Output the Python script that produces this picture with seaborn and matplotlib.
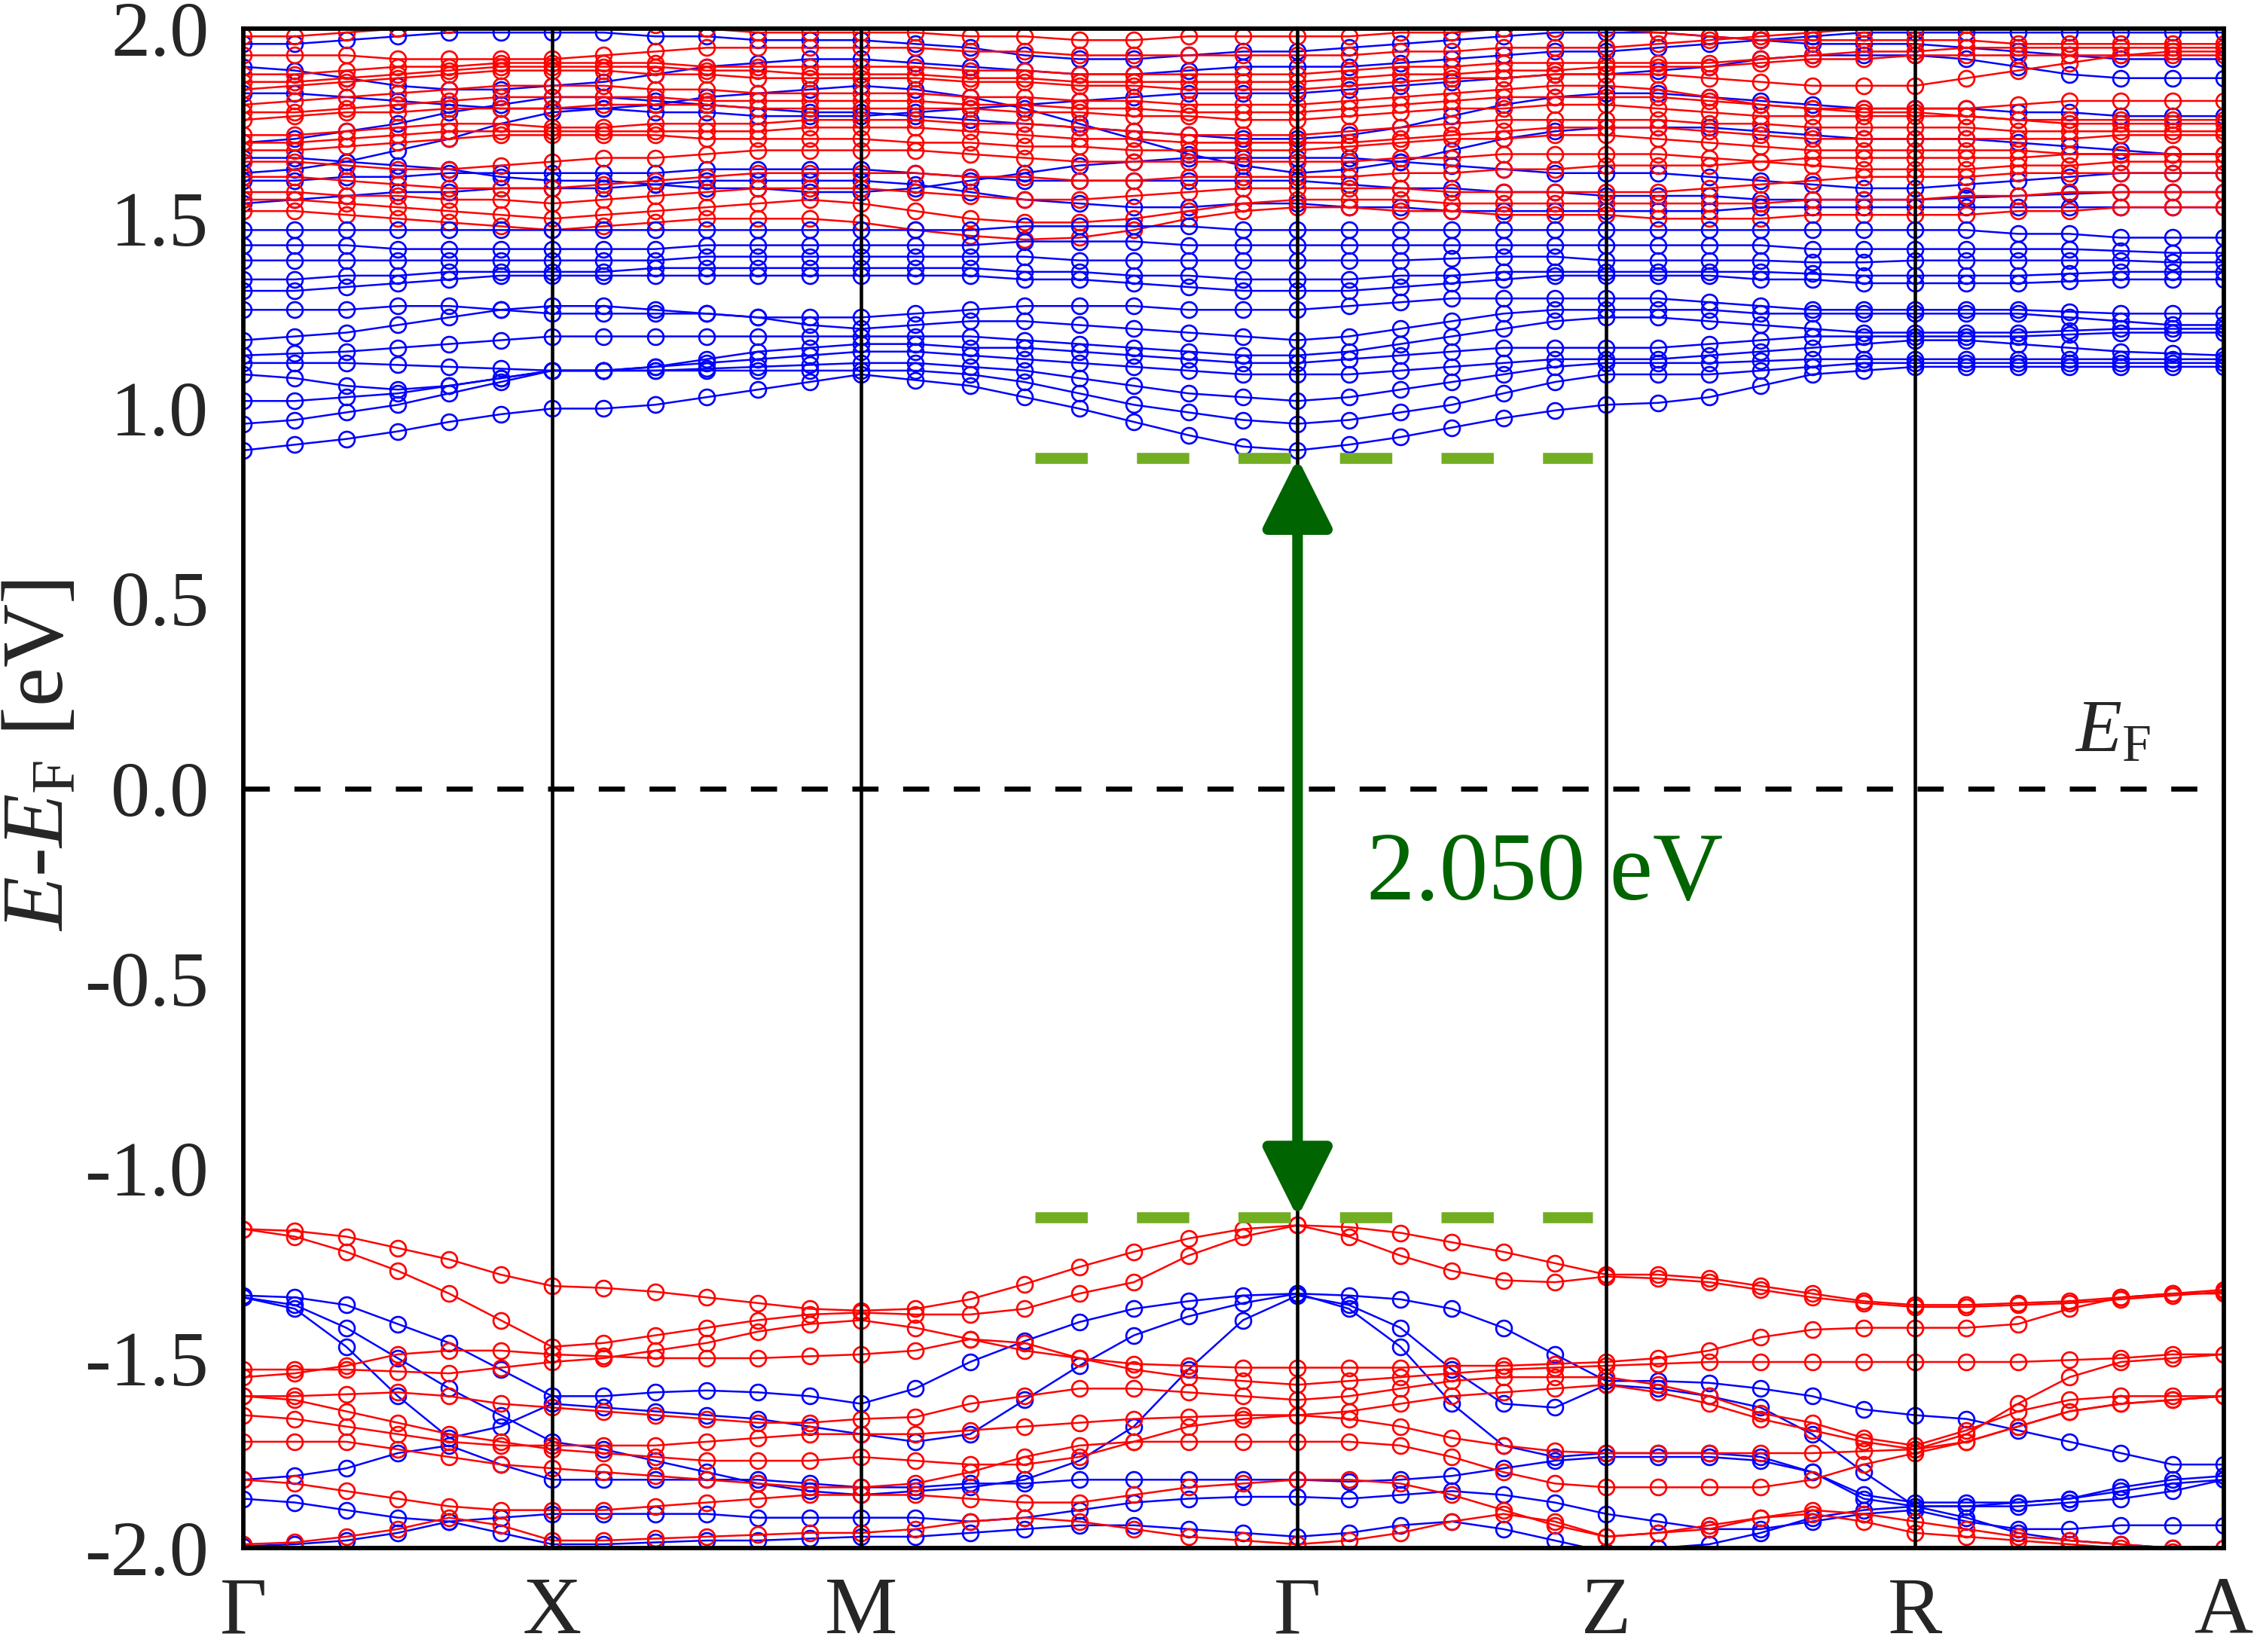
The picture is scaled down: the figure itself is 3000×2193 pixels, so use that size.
import numpy as np
import pandas as pd
import matplotlib
matplotlib.use("Agg")
import matplotlib.pyplot as plt
from matplotlib import font_manager as fm
import seaborn as sns

# k-path (high symmetry points) and number of k-steps on each segment
kpoint_labels = ["Γ", "X", "M", "Γ", "Z", "R", "A"]
kpoint_pos = [0.0, 1.0, 2.0, 3.414, 4.414, 5.414, 6.414]
seg_steps = [6, 6, 8, 6, 6, 6]

ytick_vals = [-2.0, -1.5, -1.0, -0.5, 0.0, 0.5, 1.0, 1.5, 2.0]
ytick_labels = ["-2.0", "-1.5", "-1.0", "-0.5", "0.0", "0.5", "1.0", "1.5", "2.0"]

gap_text = "2.050 eV"
cbm_line = 0.87
vbm_line = -1.13

# energies (eV), one list per band, on the k grid above
# blue bands, bottom of conduction region
blue_cond = [
    [0.89,0.905,0.92,0.94,0.965,0.985,1.00, 1.00,1.01,1.03,1.05,1.07,1.09, 1.075,1.06,1.03,1.00,0.965,0.93,0.90,0.89, 0.905,0.925,0.95,0.975,0.995,1.01, 1.015,1.03,1.06,1.09,1.10,1.11, 1.11,1.11,1.11,1.11,1.11,1.11],
    [0.96,0.97,0.99,1.01,1.04,1.07,1.10, 1.10,1.10,1.10,1.10,1.10,1.10, 1.10,1.09,1.07,1.04,1.01,0.99,0.97,0.96, 0.97,0.99,1.01,1.04,1.07,1.09, 1.09,1.09,1.10,1.11,1.12,1.12, 1.12,1.12,1.12,1.12,1.12,1.12],
    [1.02,1.02,1.03,1.04,1.06,1.08,1.10, 1.10,1.10,1.105,1.11,1.115,1.12, 1.12,1.11,1.10,1.08,1.06,1.04,1.03,1.02, 1.03,1.05,1.07,1.09,1.11,1.12, 1.12,1.12,1.125,1.13,1.13,1.13, 1.13,1.13,1.13,1.13,1.13,1.13],
    [1.09,1.08,1.06,1.05,1.06,1.08,1.10, 1.10,1.11,1.12,1.13,1.14,1.15, 1.15,1.14,1.13,1.12,1.11,1.10,1.09,1.09, 1.09,1.10,1.11,1.12,1.13,1.13, 1.13,1.14,1.15,1.16,1.17,1.18, 1.18,1.17,1.16,1.15,1.145,1.14],
    [1.12,1.12,1.12,1.115,1.11,1.105,1.10, 1.10,1.11,1.13,1.15,1.16,1.17, 1.17,1.16,1.16,1.15,1.14,1.13,1.12,1.12, 1.13,1.14,1.15,1.16,1.16,1.16, 1.16,1.17,1.18,1.19,1.19,1.19, 1.19,1.19,1.195,1.20,1.20,1.20],
    [1.14,1.145,1.15,1.16,1.17,1.18,1.19, 1.19,1.19,1.19,1.19,1.19,1.19, 1.19,1.19,1.18,1.17,1.16,1.15,1.14,1.14, 1.15,1.17,1.19,1.21,1.23,1.24, 1.24,1.23,1.22,1.21,1.20,1.20, 1.20,1.20,1.205,1.21,1.21,1.21],
    [1.18,1.19,1.20,1.22,1.24,1.26,1.27, 1.27,1.26,1.25,1.24,1.22,1.21, 1.22,1.23,1.23,1.22,1.21,1.20,1.19,1.18, 1.19,1.21,1.23,1.25,1.26,1.26, 1.26,1.26,1.25,1.25,1.25,1.25, 1.25,1.25,1.24,1.23,1.22,1.22],
    [1.26,1.26,1.26,1.27,1.27,1.26,1.25, 1.25,1.25,1.25,1.24,1.24,1.24, 1.25,1.26,1.27,1.27,1.27,1.26,1.26,1.26, 1.27,1.28,1.29,1.29,1.29,1.29, 1.29,1.28,1.27,1.26,1.26,1.26, 1.26,1.26,1.255,1.25,1.25,1.25],
    [1.31,1.31,1.32,1.33,1.34,1.35,1.35, 1.35,1.35,1.35,1.35,1.35,1.35, 1.35,1.35,1.34,1.34,1.33,1.32,1.31,1.31, 1.31,1.32,1.33,1.34,1.35,1.35, 1.35,1.35,1.34,1.34,1.33,1.33, 1.33,1.33,1.335,1.34,1.34,1.34],
    [1.34,1.34,1.35,1.35,1.36,1.36,1.36, 1.36,1.37,1.37,1.37,1.37,1.37, 1.37,1.37,1.36,1.36,1.35,1.35,1.34,1.34, 1.34,1.35,1.35,1.36,1.36,1.36, 1.36,1.36,1.36,1.355,1.35,1.35, 1.35,1.35,1.355,1.36,1.36,1.36],
    [1.39,1.39,1.39,1.39,1.39,1.39,1.39, 1.39,1.39,1.40,1.40,1.40,1.40, 1.40,1.40,1.40,1.39,1.39,1.39,1.39,1.39, 1.39,1.39,1.395,1.40,1.40,1.39, 1.39,1.39,1.39,1.385,1.385,1.39, 1.39,1.39,1.39,1.39,1.385,1.385],
    [1.43,1.43,1.43,1.42,1.42,1.42,1.42, 1.42,1.42,1.43,1.43,1.43,1.43, 1.43,1.43,1.44,1.44,1.44,1.43,1.43,1.43, 1.43,1.43,1.43,1.43,1.43,1.43, 1.43,1.43,1.43,1.42,1.42,1.42, 1.42,1.42,1.42,1.415,1.41,1.41],
    [1.47,1.47,1.47,1.47,1.47,1.47,1.47, 1.47,1.47,1.47,1.47,1.47,1.47, 1.47,1.47,1.48,1.48,1.48,1.48,1.47,1.47, 1.47,1.47,1.47,1.47,1.47,1.47, 1.47,1.47,1.47,1.47,1.47,1.47, 1.47,1.46,1.46,1.45,1.45,1.45],
]

# blue bands mixed in the 1.5 - 2.0 eV tangle
blue_high = [
    [1.60,1.60,1.61,1.61,1.62,1.62,1.62, 1.62,1.62,1.63,1.63,1.63,1.63, 1.62,1.61,1.60,1.60,1.60,1.60,1.60,1.60, 1.59,1.58,1.58,1.57,1.57,1.56, 1.56,1.56,1.55,1.55,1.55,1.55, 1.555,1.56,1.565,1.57,1.57,1.57],
    [1.62,1.63,1.65,1.68,1.71,1.75,1.78, 1.79,1.80,1.82,1.83,1.84,1.85, 1.84,1.82,1.79,1.75,1.71,1.67,1.64,1.62, 1.63,1.65,1.68,1.71,1.73,1.74, 1.74,1.74,1.73,1.72,1.71,1.71, 1.71,1.70,1.69,1.68,1.67,1.67],
    [1.66,1.66,1.65,1.64,1.63,1.61,1.60, 1.60,1.59,1.58,1.58,1.57,1.57, 1.58,1.60,1.62,1.64,1.65,1.66,1.66,1.66, 1.66,1.65,1.64,1.63,1.62,1.62, 1.62,1.61,1.60,1.59,1.58,1.58, 1.59,1.60,1.61,1.62,1.62,1.62],
    [1.70,1.71,1.73,1.75,1.78,1.80,1.82, 1.82,1.81,1.80,1.79,1.78,1.78, 1.77,1.76,1.75,1.74,1.73,1.72,1.71,1.71, 1.72,1.74,1.77,1.80,1.82,1.83, 1.83,1.82,1.81,1.80,1.79,1.79, 1.79,1.78,1.78,1.77,1.77,1.77],
    [1.96,1.96,1.97,1.98,1.99,1.99,1.99, 1.99,1.98,1.98,1.97,1.97,1.97, 1.96,1.95,1.93,1.92,1.92,1.93,1.94,1.94, 1.95,1.96,1.97,1.98,1.99,1.99, 1.99,1.98,1.97,1.96,1.96,1.96, 1.95,1.94,1.93,1.92,1.92,1.92],
    [1.83,1.83,1.82,1.81,1.80,1.79,1.79, 1.79,1.78,1.78,1.77,1.77,1.77, 1.78,1.79,1.80,1.81,1.82,1.83,1.83,1.83, 1.84,1.85,1.86,1.87,1.88,1.88, 1.89,1.90,1.92,1.93,1.93,1.93, 1.92,1.90,1.88,1.87,1.87,1.87],
    [1.54,1.55,1.56,1.57,1.57,1.58,1.58, 1.58,1.59,1.60,1.60,1.60,1.60, 1.59,1.57,1.55,1.54,1.53,1.53,1.54,1.54, 1.53,1.53,1.52,1.52,1.52,1.52, 1.52,1.52,1.53,1.53,1.53,1.53, 1.53,1.53,1.53,1.53,1.53,1.53],
    [1.90,1.89,1.87,1.85,1.84,1.84,1.85, 1.86,1.88,1.90,1.91,1.92,1.92, 1.91,1.90,1.89,1.88,1.88,1.89,1.90,1.90, 1.90,1.91,1.92,1.93,1.94,1.94, 1.95,1.96,1.97,1.98,1.99,1.99, 1.99,1.99,1.99,1.99,1.99,1.99],
]

# red bands in the 1.5 - 2.0 eV tangle
red_high = [
    [1.52,1.52,1.51,1.50,1.49,1.48,1.47, 1.48,1.49,1.50,1.50,1.50,1.49, 1.47,1.455,1.445,1.45,1.47,1.50,1.52,1.53, 1.53,1.52,1.52,1.51,1.51,1.51, 1.50,1.50,1.50,1.51,1.51,1.51, 1.51,1.52,1.52,1.53,1.53,1.53],
    [1.55,1.55,1.54,1.53,1.52,1.51,1.50, 1.51,1.52,1.53,1.54,1.55,1.54, 1.52,1.50,1.49,1.49,1.50,1.52,1.54,1.55, 1.55,1.55,1.54,1.54,1.54,1.54, 1.54,1.54,1.54,1.55,1.55,1.55, 1.56,1.56,1.57,1.57,1.57,1.57],
    [1.57,1.57,1.56,1.56,1.55,1.55,1.54, 1.55,1.56,1.57,1.58,1.58,1.58, 1.57,1.56,1.55,1.55,1.56,1.57,1.58,1.58, 1.58,1.58,1.57,1.57,1.57,1.57, 1.57,1.58,1.59,1.60,1.61,1.61, 1.61,1.62,1.62,1.62,1.62,1.62],
    [1.61,1.61,1.60,1.59,1.58,1.58,1.58, 1.59,1.60,1.61,1.62,1.62,1.62, 1.62,1.61,1.61,1.60,1.60,1.61,1.61,1.61, 1.61,1.62,1.62,1.63,1.63,1.64, 1.64,1.64,1.65,1.66,1.66,1.66, 1.66,1.66,1.67,1.67,1.67,1.67],
    [1.65,1.65,1.64,1.63,1.63,1.64,1.65, 1.66,1.66,1.67,1.68,1.68,1.68, 1.68,1.67,1.66,1.65,1.65,1.65,1.65,1.65, 1.65,1.66,1.66,1.67,1.67,1.67, 1.67,1.66,1.65,1.64,1.63,1.63, 1.63,1.64,1.64,1.65,1.65,1.65],
    [1.68,1.68,1.69,1.70,1.71,1.72,1.72, 1.72,1.72,1.71,1.71,1.71,1.71, 1.70,1.70,1.69,1.69,1.68,1.68,1.68,1.68, 1.69,1.70,1.71,1.71,1.72,1.72, 1.71,1.70,1.69,1.68,1.68,1.68, 1.68,1.68,1.67,1.67,1.67,1.67],
    [1.70,1.70,1.71,1.72,1.73,1.73,1.73, 1.73,1.73,1.73,1.73,1.74,1.74, 1.74,1.73,1.72,1.71,1.71,1.70,1.70,1.70, 1.70,1.71,1.72,1.73,1.74,1.74, 1.74,1.73,1.72,1.71,1.71,1.71, 1.71,1.71,1.71,1.72,1.72,1.72],
    [1.72,1.72,1.73,1.74,1.75,1.75,1.74, 1.74,1.75,1.75,1.75,1.76,1.76, 1.76,1.75,1.75,1.74,1.73,1.72,1.72,1.72, 1.73,1.74,1.75,1.76,1.76,1.76, 1.76,1.75,1.75,1.74,1.74,1.74, 1.74,1.73,1.73,1.73,1.73,1.73],
    [1.76,1.77,1.78,1.78,1.79,1.79,1.79, 1.80,1.80,1.80,1.79,1.79,1.79, 1.79,1.79,1.78,1.78,1.77,1.77,1.76,1.76, 1.77,1.78,1.79,1.79,1.80,1.80, 1.79,1.78,1.77,1.77,1.77,1.77, 1.77,1.76,1.76,1.76,1.76,1.76],
    [1.78,1.78,1.79,1.80,1.81,1.82,1.82, 1.82,1.82,1.81,1.81,1.81,1.81, 1.81,1.80,1.80,1.79,1.79,1.78,1.78,1.78, 1.79,1.80,1.81,1.82,1.82,1.82, 1.82,1.81,1.80,1.79,1.78,1.78, 1.77,1.76,1.75,1.75,1.75,1.75],
    [1.80,1.81,1.82,1.83,1.84,1.85,1.85, 1.85,1.84,1.84,1.83,1.83,1.83, 1.83,1.82,1.82,1.81,1.81,1.80,1.80,1.80, 1.81,1.82,1.83,1.84,1.85,1.85, 1.84,1.82,1.80,1.79,1.79,1.79, 1.79,1.80,1.81,1.81,1.81,1.81],
    [1.84,1.85,1.86,1.87,1.88,1.89,1.89, 1.89,1.88,1.88,1.87,1.87,1.87, 1.87,1.86,1.86,1.85,1.85,1.84,1.84,1.84, 1.85,1.86,1.87,1.87,1.88,1.88, 1.88,1.87,1.86,1.85,1.85,1.85, 1.87,1.89,1.91,1.93,1.94,1.94],
    [1.86,1.86,1.87,1.88,1.89,1.90,1.90, 1.90,1.90,1.89,1.89,1.88,1.88, 1.88,1.87,1.87,1.86,1.86,1.86,1.86,1.86, 1.87,1.88,1.88,1.89,1.89,1.90, 1.90,1.90,1.91,1.92,1.92,1.93, 1.93,1.93,1.93,1.93,1.93,1.93],
    [1.88,1.88,1.89,1.90,1.90,1.91,1.91, 1.91,1.91,1.90,1.90,1.90,1.90, 1.90,1.89,1.89,1.88,1.88,1.88,1.88,1.88, 1.89,1.90,1.90,1.91,1.91,1.91, 1.91,1.91,1.92,1.93,1.94,1.94, 1.95,1.95,1.95,1.95,1.95,1.95],
    [1.93,1.93,1.93,1.92,1.92,1.92,1.92, 1.93,1.94,1.95,1.95,1.95,1.95, 1.95,1.94,1.94,1.93,1.93,1.93,1.93,1.93, 1.93,1.94,1.94,1.95,1.95,1.95, 1.96,1.97,1.98,1.99,2.00,2.00, 2.01,2.02,2.02,2.02,2.02,2.02],
    [1.98,1.98,1.99,2.00,2.01,2.02,2.02, 2.02,2.01,2.00,1.99,1.99,1.99, 1.99,1.98,1.98,1.97,1.97,1.98,1.98,1.98, 1.98,1.99,1.99,2.00,2.00,2.00, 1.99,1.98,1.97,1.97,1.97,1.97, 1.97,1.96,1.96,1.96,1.96,1.96],
]

# red valence bands
red_val = [
    [-1.16,-1.165,-1.18,-1.21,-1.24,-1.28,-1.31, -1.315,-1.325,-1.34,-1.355,-1.37,-1.375, -1.37,-1.345,-1.305,-1.26,-1.22,-1.185,-1.16,-1.15, -1.155,-1.17,-1.195,-1.22,-1.25,-1.28, -1.28,-1.29,-1.31,-1.33,-1.35,-1.36, -1.36,-1.355,-1.35,-1.34,-1.33,-1.32],
    [-1.16,-1.18,-1.22,-1.27,-1.33,-1.40,-1.47, -1.46,-1.44,-1.42,-1.40,-1.385,-1.38, -1.385,-1.385,-1.37,-1.33,-1.30,-1.23,-1.18,-1.15, -1.18,-1.23,-1.27,-1.295,-1.30,-1.285, -1.29,-1.30,-1.32,-1.34,-1.355,-1.365, -1.365,-1.36,-1.355,-1.345,-1.335,-1.325],
    [-1.53,-1.53,-1.53,-1.535,-1.54,-1.525,-1.51, -1.50,-1.48,-1.46,-1.43,-1.41,-1.40, -1.42,-1.45,-1.48,-1.50,-1.515,-1.52,-1.525,-1.525, -1.525,-1.525,-1.52,-1.52,-1.515,-1.51, -1.50,-1.48,-1.445,-1.425,-1.42,-1.42, -1.42,-1.41,-1.37,-1.34,-1.33,-1.33],
    [-1.55,-1.54,-1.52,-1.49,-1.48,-1.48,-1.49, -1.495,-1.50,-1.50,-1.50,-1.495,-1.49, -1.48,-1.45,-1.46,-1.50,-1.53,-1.55,-1.56,-1.57, -1.56,-1.55,-1.54,-1.53,-1.525,-1.52, -1.515,-1.51,-1.51,-1.51,-1.51,-1.51, -1.51,-1.51,-1.505,-1.50,-1.49,-1.49],
    [-1.60,-1.60,-1.595,-1.59,-1.60,-1.62,-1.63, -1.64,-1.65,-1.66,-1.67,-1.67,-1.66, -1.655,-1.62,-1.60,-1.58,-1.58,-1.59,-1.60,-1.61, -1.60,-1.58,-1.56,-1.55,-1.55,-1.55, -1.57,-1.60,-1.645,-1.67,-1.71,-1.73, -1.69,-1.64,-1.61,-1.60,-1.60,-1.60],
    [-1.65,-1.66,-1.68,-1.70,-1.72,-1.73,-1.73, -1.73,-1.73,-1.72,-1.71,-1.70,-1.70, -1.70,-1.69,-1.68,-1.67,-1.66,-1.655,-1.65,-1.65, -1.66,-1.68,-1.71,-1.73,-1.745,-1.75, -1.75,-1.75,-1.75,-1.75,-1.745,-1.74, -1.70,-1.62,-1.55,-1.51,-1.50,-1.49],
    [-1.72,-1.72,-1.72,-1.74,-1.76,-1.78,-1.79, -1.80,-1.81,-1.82,-1.83,-1.84,-1.84, -1.83,-1.80,-1.76,-1.73,-1.72,-1.72,-1.72,-1.72, -1.72,-1.73,-1.76,-1.80,-1.83,-1.84, -1.84,-1.84,-1.84,-1.82,-1.78,-1.75, -1.72,-1.68,-1.64,-1.62,-1.61,-1.60],
    [-1.82,-1.83,-1.85,-1.87,-1.89,-1.90,-1.90, -1.90,-1.89,-1.88,-1.87,-1.86,-1.86, -1.86,-1.87,-1.88,-1.88,-1.86,-1.84,-1.83,-1.82, -1.82,-1.83,-1.86,-1.90,-1.94,-1.97, -1.96,-1.94,-1.92,-1.91,-1.93,-1.96, -1.97,-1.98,-1.99,-2.00,-2.01,-2.02],
    [-1.99,-1.985,-1.97,-1.95,-1.92,-1.94,-1.98, -1.98,-1.975,-1.97,-1.965,-1.96,-1.96, -1.95,-1.93,-1.92,-1.93,-1.95,-1.97,-1.98,-1.99, -1.98,-1.96,-1.93,-1.91,-1.93,-1.97, -1.96,-1.95,-1.92,-1.90,-1.91,-1.93, -1.95,-1.97,-1.98,-1.99,-2.00,-2.00],
    [-1.60,-1.61,-1.64,-1.67,-1.70,-1.72,-1.74, -1.75,-1.76,-1.77,-1.77,-1.77,-1.76, -1.77,-1.78,-1.78,-1.76,-1.72,-1.68,-1.66,-1.65, -1.64,-1.62,-1.60,-1.59,-1.58,-1.57, -1.59,-1.62,-1.66,-1.69,-1.72,-1.74, -1.72,-1.68,-1.64,-1.62,-1.61,-1.60],
]

# blue valence bands
blue_val = [
    [-1.335,-1.34,-1.36,-1.41,-1.46,-1.53,-1.60, -1.60,-1.59,-1.585,-1.59,-1.60,-1.62, -1.58,-1.51,-1.455,-1.405,-1.37,-1.35,-1.335,-1.33, -1.335,-1.345,-1.37,-1.42,-1.49,-1.56, -1.56,-1.565,-1.58,-1.60,-1.635,-1.65, -1.66,-1.69,-1.72,-1.75,-1.78,-1.78],
    [-1.34,-1.37,-1.47,-1.60,-1.71,-1.68,-1.62, -1.63,-1.64,-1.65,-1.66,-1.68,-1.70, -1.72,-1.70,-1.61,-1.52,-1.44,-1.39,-1.355,-1.33, -1.37,-1.47,-1.62,-1.73,-1.76,-1.75, -1.75,-1.75,-1.76,-1.80,-1.87,-1.89, -1.89,-1.88,-1.87,-1.84,-1.82,-1.81],
    [-1.34,-1.36,-1.42,-1.50,-1.58,-1.65,-1.72, -1.74,-1.77,-1.80,-1.83,-1.85,-1.86, -1.85,-1.84,-1.82,-1.77,-1.68,-1.53,-1.40,-1.335, -1.36,-1.42,-1.53,-1.62,-1.63,-1.57, -1.58,-1.60,-1.63,-1.70,-1.80,-1.89, -1.89,-1.89,-1.88,-1.87,-1.85,-1.82],
    [-1.82,-1.81,-1.79,-1.75,-1.73,-1.78,-1.82, -1.82,-1.82,-1.82,-1.82,-1.83,-1.84, -1.84,-1.83,-1.83,-1.82,-1.82,-1.82,-1.82,-1.82, -1.825,-1.82,-1.81,-1.79,-1.77,-1.76, -1.76,-1.76,-1.77,-1.80,-1.86,-1.88, -1.88,-1.88,-1.87,-1.85,-1.83,-1.82],
    [-1.87,-1.88,-1.90,-1.92,-1.93,-1.92,-1.91, -1.91,-1.91,-1.91,-1.92,-1.92,-1.92, -1.92,-1.93,-1.92,-1.90,-1.88,-1.87,-1.865,-1.865, -1.87,-1.86,-1.85,-1.86,-1.88,-1.91, -1.93,-1.95,-1.95,-1.93,-1.91,-1.90, -1.93,-1.95,-1.95,-1.94,-1.94,-1.94],
    [-1.995,-1.99,-1.98,-1.96,-1.93,-1.96,-1.99, -1.99,-1.985,-1.98,-1.98,-1.975,-1.97, -1.97,-1.96,-1.95,-1.94,-1.94,-1.95,-1.96,-1.97, -1.96,-1.94,-1.93,-1.95,-1.98,-2.01, -2.00,-1.99,-1.96,-1.92,-1.90,-1.89, -1.92,-1.96,-1.98,-1.99,-2.00,-2.00],
]

# k grid along the path
k = [kpoint_pos[0]]
for i, n in enumerate(seg_steps):
    k += list(np.linspace(kpoint_pos[i], kpoint_pos[i + 1], n + 1)[1:])
k = np.array(k)


def to_frame(bands, tag):
    rows = []
    for b, e in enumerate(bands):
        assert len(e) == len(k), (tag, b, len(e))
        for kk, ee in zip(k, e):
            rows.append((kk, ee, f"{tag}{b}"))
    return pd.DataFrame(rows, columns=["k", "E", "band"])


def pick_serif():
    # first Times-like face that matplotlib can really find
    for name in ["Liberation Serif", "STIXGeneral"]:
        try:
            fm.findfont(fm.FontProperties(family=name), fallback_to_default=False)
            return name
        except ValueError:
            pass
    return "DejaVu Serif"


sns.set_style("white")
serif = pick_serif()
plt.rcParams["font.family"] = [serif, "DejaVu Serif"]
if serif == "STIXGeneral":
    plt.rcParams["mathtext.fontset"] = "stix"
elif serif == "Liberation Serif":
    plt.rcParams["mathtext.fontset"] = "custom"
    plt.rcParams["mathtext.rm"] = serif
    plt.rcParams["mathtext.it"] = serif + ":italic"
else:
    plt.rcParams["mathtext.fontset"] = "dejavuserif"
plt.rcParams["axes.unicode_minus"] = False

fig = plt.figure(figsize=(10, 7.31), dpi=300)
ax = fig.add_axes([0.1077, 0.0629, 0.8763, 0.9197])

blue = "#0000ff"
red = "#ff0000"
groups = [
    (blue_high, "bh", blue),
    (red_high, "rh", red),
    (blue_cond, "bc", blue),
    (blue_val, "bv", blue),
    (red_val, "rv", red),
]
for bands, tag, col in groups:
    df = to_frame(bands, tag)
    sns.lineplot(data=df, x="k", y="E", units="band", estimator=None,
                 color=col, linewidth=0.6, marker="o", markersize=5,
                 markerfacecolor="none", markeredgecolor=col,
                 markeredgewidth=0.65, sort=False, legend=False, ax=ax)

# high symmetry lines and Fermi level
for x in kpoint_pos[1:-1]:
    ax.axvline(x, color="black", lw=1.1, zorder=3)
ax.axhline(0, color="black", lw=1.6, dashes=(5.2, 4.9), zorder=3)
ax.text(5.93, 0.098, r"$E_\mathrm{F}$", fontsize=24, ha="left",
        va="baseline", zorder=6)

# band gap marker
green_light = "#72ad22"
green_dark = "#006400"
ax.plot([2.563, 4.37], [cbm_line, cbm_line], color=green_light, lw=3.5,
        dashes=(4.76, 4.48), solid_capstyle="butt", zorder=5)
ax.plot([2.563, 4.37], [vbm_line, vbm_line], color=green_light, lw=3.5,
        dashes=(4.76, 4.48), solid_capstyle="butt", zorder=5)
ax.annotate("", xy=(kpoint_pos[3], cbm_line), xytext=(kpoint_pos[3], vbm_line),
            arrowprops=dict(arrowstyle="<|-|>,head_length=19,head_width=9.5",
                            mutation_scale=1, color=green_dark, lw=3.4,
                            shrinkA=0, shrinkB=0),
            zorder=6)
ax.text(3.637, -0.292, gap_text, color=green_dark, fontsize=31,
        ha="left", va="baseline", zorder=6)

ax.set_xlim(kpoint_pos[0], kpoint_pos[-1])
ax.set_ylim(-2.0, 2.0)
ax.set_xticks(kpoint_pos)
ax.set_xticklabels(kpoint_labels, fontsize=26)
ax.set_yticks(ytick_vals)
ax.set_yticklabels(ytick_labels, fontsize=25)
ax.tick_params(axis="x", length=0, pad=9)
ax.tick_params(axis="y", length=0, pad=11)
ax.set_xlabel("")
ax.set_ylabel(r"$E$-$E_\mathrm{F}$ [eV]", fontsize=28)
ax.yaxis.set_label_coords(-0.082, 0.522)
for s in ax.spines.values():
    s.set_color("black")
    s.set_linewidth(1.4)
    s.set_zorder(7)

fig.savefig("out.png", dpi=300, facecolor="white")
